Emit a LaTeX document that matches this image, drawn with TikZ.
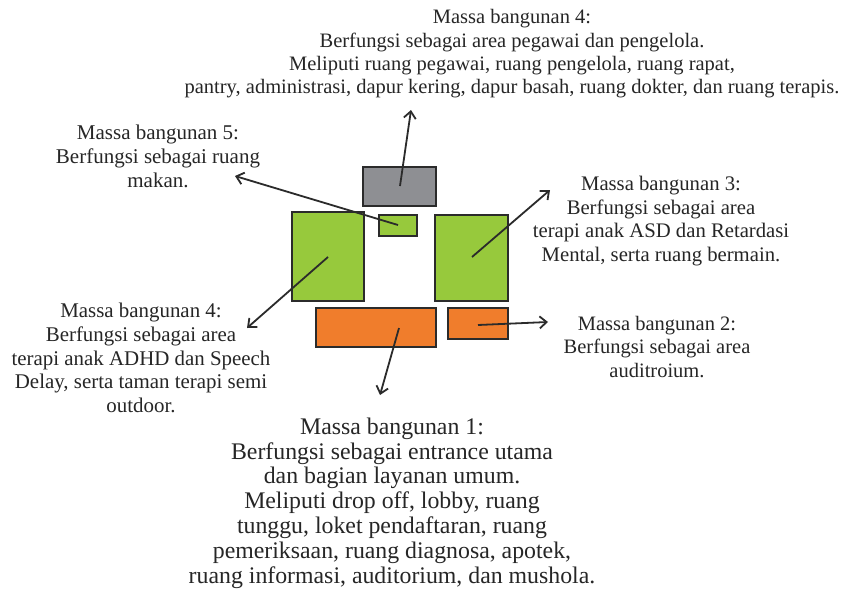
\documentclass[tikz,border=0pt]{standalone}
\usepackage{fontspec}
\setmainfont{Liberation Serif}
\usetikzlibrary{arrows.meta}
\definecolor{mgray}{HTML}{8E8F93}
\definecolor{mgreen}{HTML}{97C93C}
\definecolor{morange}{HTML}{F07D2C}
\definecolor{mline}{HTML}{2B2B2B}
\begin{document}
\begin{tikzpicture}[x=1pt,y=-1pt,
  mass/.style={draw=mline,line width=2.6pt,inner sep=0pt,outer sep=0pt},
  lbl/.style={align=center,inner sep=0pt,text=black!85},
  pointer/.style={draw=mline,line width=1.8pt,-{Straight Barb[length=7pt,width=12pt,line width=1.8pt]}}]
\useasboundingbox[fill=white] (0,0) rectangle (848,597);
% masses
\node[mass,fill=mgray,minimum width=73pt,minimum height=39pt] (b4a) at (399.5,186.5) {};
\node[mass,fill=mgreen,minimum width=38pt,minimum height=21pt] (b5) at (398,225.5) {};
\node[mass,fill=mgreen,minimum width=72pt,minimum height=89pt] (b4b) at (328,256.5) {};
\node[mass,fill=mgreen,minimum width=73pt,minimum height=86pt] (b3) at (471.5,258) {};
\node[mass,fill=morange,minimum width=120pt,minimum height=39pt] (b1) at (376,327.5) {};
\node[mass,fill=morange,minimum width=60pt,minimum height=31pt] (b2) at (478,323.5) {};
% labels
\node[lbl,font=\fontsize{20.5}{23.3}\selectfont] (t4a) at (512,54) {Massa bangunan 4:\\Berfungsi sebagai area pegawai dan pengelola.\\Meliputi ruang pegawai, ruang pengelola, ruang rapat,\\pantry, administrasi, dapur kering, dapur basah, ruang dokter, dan ruang terapis.};
\node[lbl,font=\fontsize{21}{24}\selectfont] (t5) at (158,156) {Massa bangunan 5:\\Berfungsi sebagai ruang\\makan.};
\node[lbl,font=\fontsize{20.7}{23.5}\selectfont] (t3) at (661,221) {Massa bangunan 3:\\Berfungsi sebagai area\\terapi anak ASD dan Retardasi\\Mental, serta ruang bermain.};
\node[lbl,font=\fontsize{20.9}{23.8}\selectfont] (t4b) at (141,358) {Massa bangunan 4:\\Berfungsi sebagai area\\terapi anak ADHD dan Speech\\Delay, serta taman terapi semi\\outdoor.};
\node[lbl,font=\fontsize{20.5}{23.5}\selectfont] (t2) at (657,347) {Massa bangunan 2:\\Berfungsi sebagai area\\auditroium.};
\node[lbl,font=\fontsize{23.8}{24.8}\selectfont] (t1) at (392,503) {Massa bangunan 1:\\Berfungsi sebagai entrance utama\\dan bagian layanan umum.\\Meliputi drop off, lobby, ruang\\tunggu, loket pendaftaran, ruang\\pemeriksaan, ruang diagnosa, apotek,\\ruang informasi, auditorium, dan mushola.};
% pointer start and end points
\coordinate (s4a) at (400,186);
\coordinate (e4a) at (411,110);
\coordinate (s5) at (398,225);
\coordinate (e5) at (235,176);
\coordinate (s4b) at (328,257);
\coordinate (e4b) at (247,328);
\coordinate (s3) at (472,257);
\coordinate (e3) at (550,190);
\coordinate (s2) at (478,325);
\coordinate (e2) at (548,322);
\coordinate (s1) at (399,328);
\coordinate (e1) at (380,395);
\draw[pointer] (s4a) -- (e4a);
\draw[pointer] (s5) -- (e5);
\draw[pointer] (s4b) -- (e4b);
\draw[pointer] (s3) -- (e3);
\draw[pointer] (s2) -- (e2);
\draw[pointer] (s1) -- (e1);
\end{tikzpicture}
\end{document}
